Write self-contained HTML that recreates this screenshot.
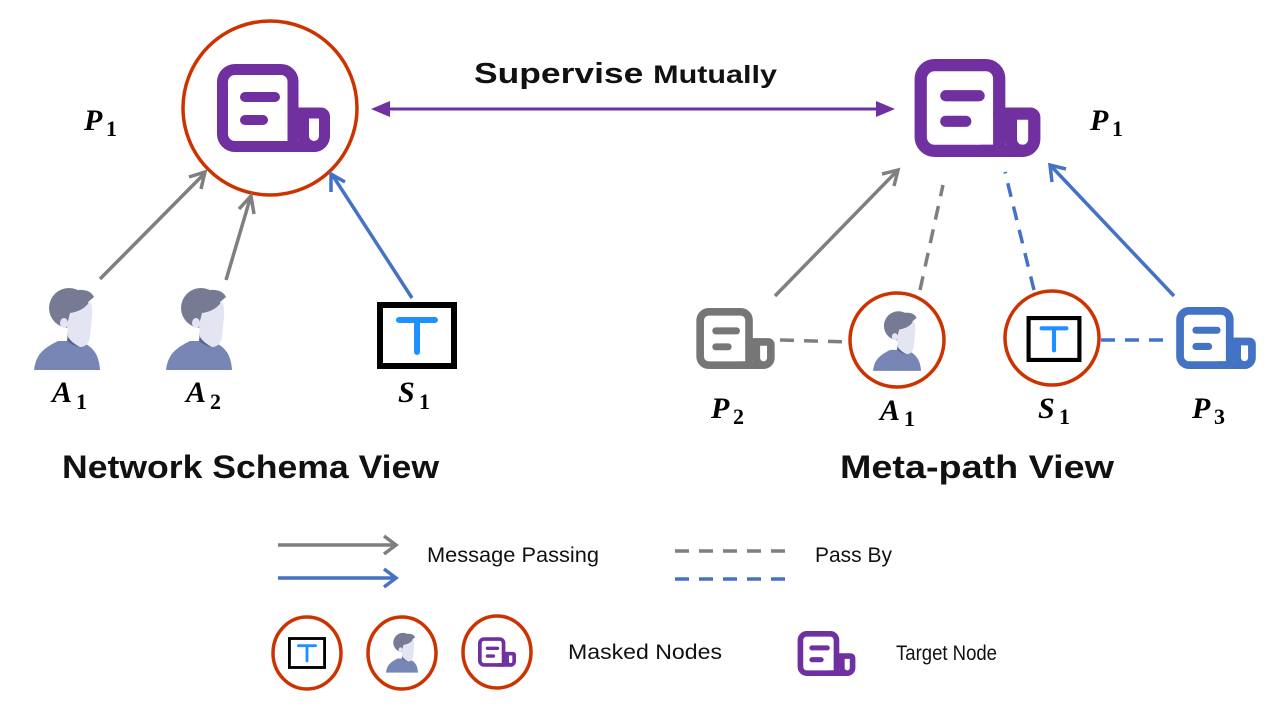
<!DOCTYPE html>
<html><head><meta charset="utf-8"><style>
html,body{margin:0;padding:0;background:#fff;width:1280px;height:720px;overflow:hidden}
svg text{font-family:"Liberation Sans",sans-serif}
.lab{font-family:"Liberation Serif",serif;font-style:italic;font-weight:bold;font-size:30px;fill:#000}
.sub{font-family:"Liberation Serif",serif;font-weight:bold;font-size:22px;fill:#000}
</style></head><body>
<svg width="1280" height="720" viewBox="0 0 1280 720" xmlns="http://www.w3.org/2000/svg">
<defs>
<symbol id="paper" viewBox="0 0 113 88" overflow="visible">
<g fill="none" stroke-width="11" stroke-linecap="round" stroke-linejoin="round">
<path d="M18 5.5 H64 A12 12 0 0 1 76 17.5 V82.5 H18 A12.5 12.5 0 0 1 5.5 70 V18 A12.5 12.5 0 0 1 18 5.5 Z"/>
<path d="M76 49 H104 A3.5 3.5 0 0 1 107.5 52.5 V72 A10.5 10.5 0 0 1 97 82.5 H60"/>
<path d="M86.5 49 V72 A10.5 10.5 0 0 0 97 82.5"/>
<line x1="28" y1="33" x2="58" y2="33" stroke-width="10"/>
<line x1="28" y1="56" x2="46" y2="56" stroke-width="10"/>
</g>
</symbol>
<symbol id="person" viewBox="0 0 66 85" overflow="visible">
<path d="M0 85 C2 70 8 64 24 56 L46 56 C60 62 65 70 66 85 Z" fill="#7886b5"/>
<path d="M34 46 L48 46 L47 62 Q40 62 33 56 Z" fill="#5a6596"/>
<circle cx="35" cy="23" r="20" fill="#767b93"/>
<path d="M44 5 Q56 4 60 12 L53 18 Z" fill="#767b93"/>
<path d="M36 28 Q50 26 56 16 Q59 22 58 32 L56 52 Q54 62 46 62 Q38 58 34 52 L33 40 Z" fill="#e4e5f3"/>
<ellipse cx="30" cy="38" rx="4" ry="5" fill="#e4e5f3"/>
</symbol>
<symbol id="tbox" viewBox="0 0 80 67" overflow="visible">
<rect x="3" y="3" width="74" height="61" fill="#fff" stroke="#000" stroke-width="6"/>
<path d="M22 18 H58 M40 18 V50" stroke="#1e90ff" stroke-width="6" stroke-linecap="round" fill="none"/>
</symbol>
</defs>

<circle cx="270" cy="108" r="87" fill="none" stroke="#cc3300" stroke-width="3.5"/>
<use href="#paper" x="217" y="64" width="113" height="88" stroke="#7030a0"/>
<use href="#paper" x="914" y="59" width="127" height="98" stroke="#7030a0"/>

<line x1="380" y1="109" x2="885" y2="109" stroke="#7030a0" stroke-width="3"/>
<path d="M371 109 L390 101 L390 117 Z" fill="#7030a0"/>
<path d="M895 109 L876 101 L876 117 Z" fill="#7030a0"/>
<text x="474" y="83" font-size="29" font-weight="bold" fill="#111" textLength="303" lengthAdjust="spacingAndGlyphs">Supervise <tspan font-size="25">Mutually</tspan></text>

<text class="lab" x="84" y="130">P</text><text class="sub" x="106" y="136">1</text>
<text class="lab" x="1090" y="130">P</text><text class="sub" x="1112" y="136">1</text>

<g stroke-width="3.5" fill="none" stroke-linecap="butt">
<line x1="100" y1="279" x2="203" y2="175" stroke="#7f7f7f"/>
<path d="M189 177 L205 172 L201 189" stroke="#7f7f7f"/>
<line x1="226" y1="280" x2="250" y2="199" stroke="#7f7f7f"/>
<path d="M239 209 L251 196 L254 214" stroke="#7f7f7f"/>
<line x1="412" y1="298" x2="333" y2="176" stroke="#4472c4"/>
<path d="M331 192 L331 174 L345 182" stroke="#4472c4"/>
<line x1="775" y1="296" x2="896" y2="172" stroke="#7f7f7f"/>
<path d="M882 174 L898 170 L894 186" stroke="#7f7f7f"/>
<line x1="1174" y1="296" x2="1052" y2="167" stroke="#4472c4"/>
<path d="M1052 182 L1050 165 L1066 169" stroke="#4472c4"/>
<line x1="920" y1="290" x2="943" y2="185" stroke="#7f7f7f" stroke-dasharray="14,10"/>
<line x1="1034" y1="290" x2="1005" y2="172" stroke="#4472c4" stroke-dasharray="14,10"/>
<line x1="780" y1="340" x2="849" y2="342" stroke="#7f7f7f" stroke-dasharray="14,10"/>
<line x1="1101" y1="340" x2="1172" y2="340" stroke="#4472c4" stroke-dasharray="14,10"/>
</g>

<use href="#person" x="34" y="285" width="66" height="85"/>
<use href="#person" x="166" y="285" width="66" height="85"/>
<use href="#tbox" x="377" y="302" width="80" height="67"/>
<text class="lab" x="52" y="402">A</text><text class="sub" x="76" y="409">1</text>
<text class="lab" x="186" y="402">A</text><text class="sub" x="210" y="409">2</text>
<text class="lab" x="398" y="402">S</text><text class="sub" x="419" y="409">1</text>

<use href="#paper" x="695" y="308" width="81" height="61" stroke="#767676"/>
<use href="#paper" x="1175" y="307" width="82" height="62" stroke="#4472c4"/>
<circle cx="897" cy="340" r="47" fill="#fff" stroke="#cc3300" stroke-width="3.5"/>
<use href="#person" x="873" y="309" width="48" height="62"/>
<circle cx="1052" cy="338" r="47" fill="#fff" stroke="#cc3300" stroke-width="3.5"/>
<use href="#tbox" x="1026" y="316" width="56" height="46"/>
<text class="lab" x="711" y="418">P</text><text class="sub" x="733" y="424">2</text>
<text class="lab" x="880" y="420">A</text><text class="sub" x="904" y="426">1</text>
<text class="lab" x="1038" y="418">S</text><text class="sub" x="1059" y="424">1</text>
<text class="lab" x="1192" y="418">P</text><text class="sub" x="1214" y="424">3</text>

<text x="62" y="478" font-size="32" font-weight="bold" fill="#111" textLength="377" lengthAdjust="spacingAndGlyphs">Network Schema View</text>
<text x="840" y="478" font-size="32" font-weight="bold" fill="#111" textLength="274" lengthAdjust="spacingAndGlyphs">Meta-path View</text>

<g stroke-width="3.5" fill="none">
<line x1="278" y1="545" x2="395" y2="545" stroke="#7f7f7f"/>
<path d="M384 536 L396 545 L384 554" stroke="#7f7f7f"/>
<line x1="278" y1="578" x2="395" y2="578" stroke="#4472c4"/>
<path d="M384 569 L396 578 L384 587" stroke="#4472c4"/>
<line x1="675" y1="551" x2="795" y2="551" stroke="#7f7f7f" stroke-dasharray="14,10"/>
<line x1="675" y1="579" x2="795" y2="579" stroke="#4472c4" stroke-dasharray="14,10"/>
</g>
<text x="427" y="562" font-size="21" fill="#111" textLength="172" lengthAdjust="spacingAndGlyphs">Message Passing</text>
<text x="815" y="562" font-size="21" fill="#111">Pass By</text>

<ellipse cx="307" cy="653" rx="34" ry="36" fill="#fff" stroke="#cc3300" stroke-width="3.5"/>
<use href="#tbox" x="288" y="636" width="38" height="34"/>
<ellipse cx="402" cy="653" rx="34" ry="36" fill="#fff" stroke="#cc3300" stroke-width="3.5"/>
<use href="#person" x="386" y="630" width="32" height="44"/>
<ellipse cx="497" cy="652" rx="34" ry="36" fill="#fff" stroke="#cc3300" stroke-width="3.5"/>
<use href="#paper" x="478" y="637" width="38" height="30" stroke="#7030a0"/>
<text x="568" y="659" font-size="21" fill="#111" textLength="154" lengthAdjust="spacingAndGlyphs">Masked Nodes</text>
<use href="#paper" x="797" y="631" width="59" height="45" stroke="#7030a0"/>
<text x="896" y="660" font-size="21" fill="#111" textLength="101" lengthAdjust="spacingAndGlyphs">Target Node</text>
</svg>
</body></html>
